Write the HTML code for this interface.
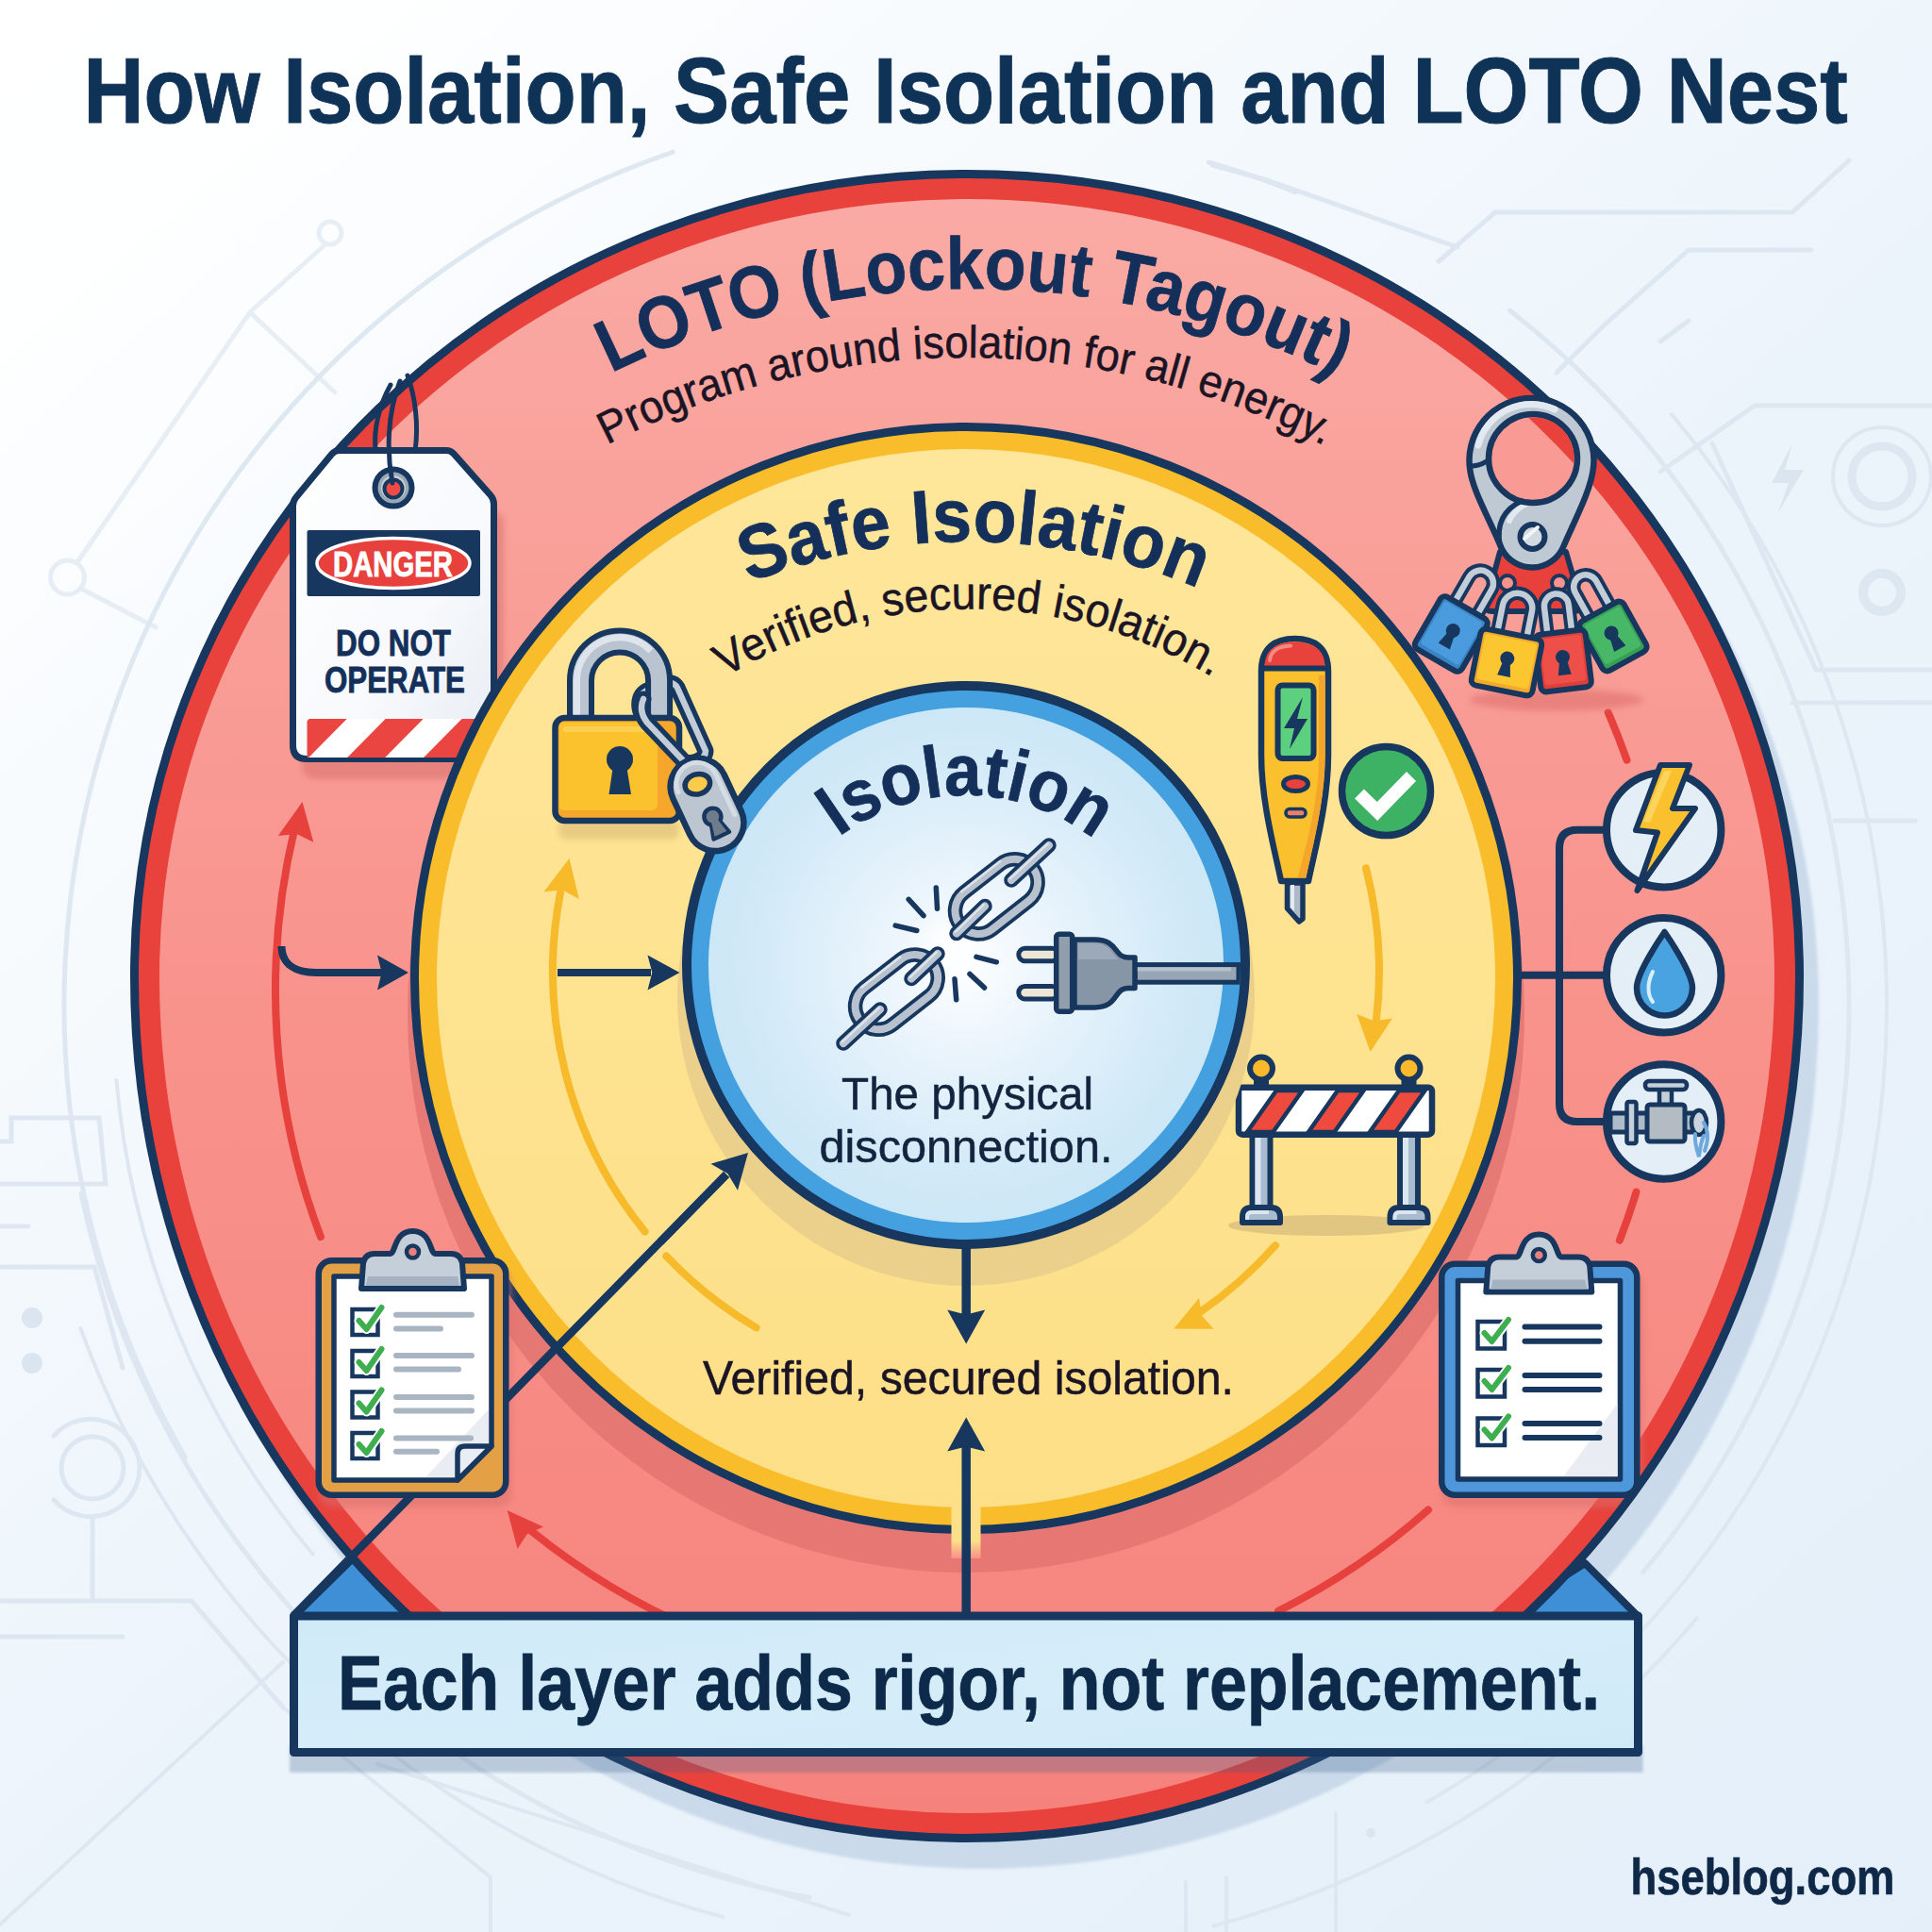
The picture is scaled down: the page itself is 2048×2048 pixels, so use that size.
<!DOCTYPE html>
<html><head><meta charset="utf-8"><title>How Isolation, Safe Isolation and LOTO Nest</title>
<style>
html,body{margin:0;padding:0;background:#eef4fa;}
body{width:2048px;height:2048px;overflow:hidden;}
svg{display:block;}
text{font-family:"Liberation Sans",sans-serif;}
.b{font-weight:bold;}
</style></head><body>
<svg width="2048" height="2048" viewBox="0 0 2048 2048">
<defs>
<linearGradient id="bgG" gradientUnits="userSpaceOnUse" x1="0" y1="0" x2="1884.6" y2="2184.7">
<stop offset="0" stop-color="#FFFFFF"/><stop offset="0.085" stop-color="#FEFFFF"/><stop offset="0.275" stop-color="#F6FAFD"/><stop offset="0.53" stop-color="#ECF4FB"/><stop offset="0.83" stop-color="#E7F1FA"/><stop offset="1" stop-color="#E5EFF9"/>
</linearGradient>
<linearGradient id="pinkG" x1="0" y1="0" x2="0" y2="1">
<stop offset="0" stop-color="#FAAAA4"/><stop offset="0.5" stop-color="#F8938C"/><stop offset="1" stop-color="#F6827C"/>
</linearGradient>
<linearGradient id="yelG" x1="0" y1="0" x2="0" y2="1">
<stop offset="0" stop-color="#FEE69A"/><stop offset="1" stop-color="#FDDF87"/>
</linearGradient>
<radialGradient id="blueG" cx="0.5" cy="0.5" r="0.5">
<stop offset="0" stop-color="#FDFEFF"/><stop offset="0.35" stop-color="#EAF4FC"/><stop offset="0.8" stop-color="#D3EAF8"/><stop offset="1" stop-color="#CCE7F6"/>
</radialGradient>
<linearGradient id="silverG" x1="0" y1="0" x2="1" y2="1">
<stop offset="0" stop-color="#DCE4EC"/><stop offset="1" stop-color="#A9B6C4"/>
</linearGradient>
<filter id="blur6" x="-20%" y="-20%" width="140%" height="140%"><feGaussianBlur stdDeviation="6"/></filter>
<filter id="blur1" x="-5%" y="-5%" width="110%" height="110%"><feGaussianBlur stdDeviation="1.5"/></filter>
<filter id="blur3" x="-20%" y="-20%" width="140%" height="140%"><feGaussianBlur stdDeviation="3"/></filter>
<filter id="blur12" x="-20%" y="-20%" width="140%" height="140%"><feGaussianBlur stdDeviation="12"/></filter>
<clipPath id="clipOuter"><path d="M147,1035 A878,846 0 0 1 1903,1035 A878,909 0 0 1 147,1035 Z"/></clipPath>
<clipPath id="clipYel"><circle cx="1024" cy="1037" r="580"/></clipPath>
<clipPath id="clipBlue"><circle cx="1024" cy="1023" r="291"/></clipPath>
</defs>
<rect width="2048" height="2048" fill="url(#bgG)"/>

<g fill="none" stroke="#DCE6F0" stroke-width="5" stroke-linecap="round" opacity="0.9">
<path d="M196.2,1544.5 A957,957 0 0 1 713.4,161.1" stroke-width="5"/>
<path d="M1281.3,172.0 A930,930 0 0 1 1373.4,203.7" stroke-width="5"/>
<path d="M331.7,1647.7 A905,905 0 0 1 123.4,1144.9" stroke-width="4"/>
<path d="M858.3,2011.4 A960,960 0 0 1 86.0,1265.6" stroke-width="5"/>
<path d="M766.2,2031.9 A1000,1000 0 0 1 85.3,1408.0" stroke-width="4"/>
<path d="M1600.6,329.2 A935,935 0 0 1 1741.3,1667.0" stroke-width="5"/>
<path d="M1771.9,439.3 A975,975 0 0 1 1512.5,1910.4" stroke-width="4"/>
<path d="M1798.7,1715.2 A1010,1010 0 0 1 1286.4,2041.6" stroke-width="4"/>
<g opacity="0.7"><path d="M345,259 L265,331 L82,596 M265,331 L355,416 M88,625 L165,665"/>
<circle cx="350" cy="247" r="12"/><circle cx="71.5" cy="612" r="18"/></g>
<path d="M1285,175 L1340,190 L1545,262 M1525,277 L1585,225 L1900,225 L1960,170"/>
<path d="M1650,395 L1700,345 L1790,265 L1920,265"/>
<path d="M1760,362 L1790,340"/>
<path d="M1760,500 L1860,430 L2048,430 M1815,470 L1925,710 L2048,710 M1900,745 L2048,745"/>
<path d="M1945,870 L2030,870"/>
<circle cx="1995" cy="505" r="32" stroke-width="9"/><circle cx="1995" cy="505" r="52" stroke-width="4"/>
<circle cx="1995" cy="628" r="20" stroke-width="10"/>
<path d="M1900,470 L1878,512 L1896,512 L1884,545 L1912,498 L1892,498 Z" fill="#D9E4EF" stroke="none"/>
<path d="M0,1210 L12,1210 L12,1185 L105,1185 L112,1255 L0,1255 M0,1300 L30,1300 M0,1343 L100,1343 L130,1450"/>
<circle cx="34" cy="1397" r="11" fill="#D9E4EF" stroke="none"/><circle cx="34" cy="1445" r="11" fill="#D9E4EF" stroke="none"/>
<circle cx="98" cy="1556" r="33"/><path d="M57,1522 A52,52 0 0 1 148,1556 A52,52 0 0 1 57,1590"/>
<path d="M98,1610 L98,1695 M0,1697 L203,1697 L300,1810 M0,1735 L130,1735"/>
<path d="M0,2040 L300,1762" stroke-width="4"/>
<path d="M300,1810 L520,1990 L520,2048 M400,1870 L900,2030" stroke-width="4"/>
<path d="M1416,2048 L1416,1922 M1257,2048 L1257,1995 M1300,2048 L1300,1990" stroke-width="4"/>
<circle cx="1453" cy="1943" r="5" fill="#D9E4EF" stroke="none"/>
</g>
<path d="M139,1035 A886,854 0 0 1 1911,1035 A886,917 0 0 1 139,1035 Z" fill="#C7D8E9" opacity="0.9" filter="url(#blur1)" transform="translate(17,29)"/>
<path d="M311,1714 L379,1647 L470,1714 Z" fill="#3E8FD6" stroke="#17375E" stroke-width="8" stroke-linejoin="round"/>
<path d="M1737,1714 L1680,1657 L1590,1714 Z" fill="#3E8FD6" stroke="#17375E" stroke-width="8" stroke-linejoin="round"/>
<path d="M142.5,1035 A882.5,850.5 0 0 1 1907.5,1035 A882.5,913.5 0 0 1 142.5,1035 Z" fill="#E9423D" stroke="#17375E" stroke-width="9"/>
<path d="M169,1035 A856,824 0 0 1 1881,1035 A856,887 0 0 1 169,1035 Z" fill="url(#pinkG)"/>
<g fill="none" stroke="#E6413D" stroke-width="8" stroke-linecap="round">
<path d="M339.9,1311.0 A735,735 0 0 1 312.3,878.4"/>
<path d="M1704.7,755.3 A739,739 0 0 1 1724.5,805.7"/>
<path d="M1734.5,1263.6 A739,739 0 0 1 1716.9,1314.8"/>
<path d="M1514.0,1600.5 A735,735 0 0 1 1355.0,1707.8"/>
<path d="M739.0,1728.4 A737,737 0 0 1 563.2,1622.8"/>
</g>
<path d="M320.5,850.0 L332.3,892.7 L314.5,883.9 L294.8,886.1 Z" fill="#E6413D"/>
<path d="M537.7,1601.1 L576.0,1618.4 L558.9,1626.0 L548.6,1641.7 Z" fill="#E6413D"/>
<path d="M298.5,1003 C298.5,1022 313,1031 335,1031 L405,1031" fill="none" stroke="#17375E" stroke-width="8"/>
<path d="M433.0,1031.0 L400.0,1049.5 L404.6,1031.0 L400.0,1012.5 Z" fill="#17375E"/>
<g id="tag">
<path d="M398,478 C396,455 402,430 414,408 M440,478 C444,450 440,420 432,398" fill="none" stroke="#17375E" stroke-width="5" stroke-linecap="round"/>
<path d="M316,545 L360,490 L480,490 L530,540 L530,800 Q530,816 514,816 L332,816 Q316,816 316,800 Z" fill="#D9706C" opacity="0.55" filter="url(#blur3)" transform="translate(4,10)"/>
<linearGradient id="tagG" x1="0" y1="0" x2="1" y2="1"><stop offset="0" stop-color="#FFFFFF"/><stop offset="0.6" stop-color="#F7F9FC"/><stop offset="1" stop-color="#E6ECF3"/></linearGradient>
<path d="M310.5,790 L310.5,536 Q310.5,531 314,527 L352,481 Q355,477.5 360,477.5 L473,477.5 Q478,477.5 481,481 L520,525 Q523.5,529 523.5,534 L523.5,790 Q523.5,804.5 509,804.5 L325,804.5 Q310.5,804.5 310.5,790 Z" fill="url(#tagG)" stroke="#17375E" stroke-width="7" stroke-linejoin="round"/>
<circle cx="417" cy="517" r="19.5" fill="#9AA7B5" stroke="#17375E" stroke-width="6"/>
<circle cx="417" cy="517" r="13" fill="#C7D0DA"/>
<circle cx="417" cy="518" r="9.5" fill="#EE4B47" stroke="#17375E" stroke-width="4"/>
<path d="M416,512 C410,480 410,440 424,404" fill="none" stroke="#17375E" stroke-width="5" stroke-linecap="round"/>
<rect x="325.5" y="562" width="183.5" height="70" rx="2" fill="#17375E"/>
<ellipse cx="417" cy="597" rx="81" ry="26.5" fill="#E8403C" stroke="#FFFFFF" stroke-width="3.5"/>
<text x="416.5" y="610.5" text-anchor="middle" class="b" font-size="37.5" fill="#FFFFFF" stroke="#FFFFFF" stroke-width="0.9" textLength="127" lengthAdjust="spacingAndGlyphs">DANGER</text>
<text x="417" y="695" text-anchor="middle" class="b" font-size="39.5" fill="#14305A" stroke="#14305A" stroke-width="0.9" textLength="122" lengthAdjust="spacingAndGlyphs">DO NOT</text>
<text x="418.5" y="734" text-anchor="middle" class="b" font-size="39.5" fill="#14305A" stroke="#14305A" stroke-width="0.9" textLength="149" lengthAdjust="spacingAndGlyphs">OPERATE</text>
<clipPath id="clipStripe"><rect x="325.5" y="762" width="183.5" height="41" rx="2"/></clipPath>
<g clip-path="url(#clipStripe)"><rect x="325.5" y="762" width="183.5" height="41" fill="#FFFFFF"/>
<path d="M246.7,762 L286.7,762 L246.2,803 L206.2,803 Z" fill="#EA4540"/>
<path d="M327.7,762 L367.7,762 L327.2,803 L287.2,803 Z" fill="#EA4540"/>
<path d="M408.7,762 L448.7,762 L408.2,803 L368.2,803 Z" fill="#EA4540"/>
<path d="M489.6,762 L529.6,762 L489.1,803 L449.1,803 Z" fill="#EA4540"/>
</g>
</g>
<path id="tp1" d="M569.4,439.7 A860,860 0 0 1 1495.6,443.0" fill="none"/>
<text class="b" font-size="78" fill="#14305A" text-anchor="middle" textLength="798.0" lengthAdjust="spacingAndGlyphs" stroke="#14305A" stroke-width="0.8"><textPath href="#tp1" startOffset="50%" textLength="798.0" lengthAdjust="spacingAndGlyphs">LOTO (Lockout Tagout)</textPath></text>
<path id="tp2" d="M569.4,515.3 A823,823 0 0 1 1477.8,516.1" fill="none"/>
<text font-size="48" fill="#1B1424" text-anchor="middle" textLength="790.0" lengthAdjust="spacingAndGlyphs" stroke="#1B1424" stroke-width="0.5"><textPath href="#tp2" startOffset="50%" textLength="790.0" lengthAdjust="spacingAndGlyphs">Program around isolation for all energy.</textPath></text>
<g clip-path="url(#clipOuter)"><circle cx="1024" cy="1075" r="592" fill="#E0726E" opacity="0.75"/></g>
<circle cx="1024" cy="1037" r="584.5" fill="#F9BD2C" stroke="#17375E" stroke-width="9"/>
<circle cx="1024" cy="1037" r="561" fill="url(#yelG)"/>
<linearGradient id="notchG" x1="0" y1="0" x2="0" y2="1"><stop offset="0" stop-color="#FDDF87"/><stop offset="0.7" stop-color="#FDDF87"/><stop offset="1" stop-color="#F98F89"/></linearGradient>
<rect x="1008.5" y="1590" width="31" height="62" fill="url(#notchG)"/>
<g fill="none" stroke="#F7BA2A" stroke-width="8" stroke-linecap="round">
<path d="M683.6,1305.6 A438,438 0 0 1 594.0,946.4"/>
<path d="M801.7,1407.4 A438,438 0 0 1 706.3,1331.5"/>
<path d="M1448.0,920.3 A438,438 0 0 1 1458.7,1083.4"/>
<path d="M1352.0,1320.2 A438,438 0 0 1 1272.1,1391.0"/>
</g>
<path d="M603.5,910.0 L613.8,953.1 L596.3,943.6 L576.6,945.2 Z" fill="#F7BA2A"/>
<path d="M1452.5,1115.0 L1438.3,1075.0 L1456.5,1082.6 L1476.0,1079.6 Z" fill="#F7BA2A"/>
<path d="M1244.3,1408.6 L1271.0,1376.1 L1273.9,1394.6 L1286.4,1408.7 Z" fill="#F7BA2A"/>
<path id="tp3" d="M733.7,645.4 A630,630 0 0 1 1329.8,652.6" fill="none"/>
<text class="b" font-size="80" fill="#14305A" text-anchor="middle" textLength="489.0" lengthAdjust="spacingAndGlyphs" stroke="#14305A" stroke-width="0.8"><textPath href="#tp3" startOffset="50%" textLength="489.0" lengthAdjust="spacingAndGlyphs">Safe Isolation</textPath></text>
<path id="tp4" d="M725.9,747.2 A496.5,496.5 0 0 1 1328.1,747.2" fill="none"/>
<text font-size="49" fill="#1B1424" text-anchor="middle" textLength="543.0" lengthAdjust="spacingAndGlyphs" stroke="#1B1424" stroke-width="0.5"><textPath href="#tp4" startOffset="50%" textLength="543.0" lengthAdjust="spacingAndGlyphs">Verified, secured isolation.</textPath></text>
<text x="1026.5" y="1477.5" text-anchor="middle" font-size="50.5" fill="#1B1424" stroke="#1B1424" stroke-width="0.5" textLength="563" lengthAdjust="spacingAndGlyphs">Verified, secured isolation.</text>
<g id="tester">
<path d="M1337,712 C1337,686 1352,677 1372.5,677 C1393,677 1408,686 1408,712 L1408,800 C1408,850 1394,900 1387,934 L1358,934 C1351,900 1337,850 1337,800 Z" fill="#FBC02D" stroke="#17375E" stroke-width="6.5" stroke-linejoin="round"/>
<path d="M1398,716 L1404.5,716 L1404.5,800 C1404.5,850 1391,898 1384.5,930 L1376,930 C1386,890 1398,850 1398,800 Z" fill="#F4A52A"/>
<path d="M1340.5,707 C1340.5,688 1354,680.5 1372.5,680.5 C1391,680.5 1404.5,688 1404.5,707 Z" fill="#E9423D"/>
<path d="M1346,700 C1347,690 1356,685 1368,684.5" fill="none" stroke="#F48A84" stroke-width="4" stroke-linecap="round"/>
<path d="M1337,708.5 L1408,708.5" stroke="#17375E" stroke-width="6"/>
<rect x="1354.5" y="726.5" width="38" height="77.5" rx="5" fill="#5DD080" stroke="#17375E" stroke-width="6"/>
<path d="M1381,739 L1361,772 L1372,772 L1367,794 L1386,762 L1375,762 Z" fill="#17375E"/>
<ellipse cx="1373.5" cy="831" rx="13" ry="7.5" fill="#E9423D" stroke="#17375E" stroke-width="5"/>
<rect x="1363" y="857.5" width="21" height="8.5" rx="4" fill="#E8806B" stroke="#17375E" stroke-width="3.5"/>
<path d="M1364.5,936 L1381,936 L1381,974 L1377,977 L1364.5,963 Z" fill="#AEB9C6" stroke="#17375E" stroke-width="5.5" stroke-linejoin="round"/>
<path d="M1368,938 L1372,938 L1372,966 L1368,962 Z" fill="#E4EAF1"/>
</g>
<circle cx="1469.5" cy="838.5" r="47" fill="#3DB264" stroke="#17375E" stroke-width="7.5"/>
<path d="M1441,841.5 L1460,860 L1496,823" fill="none" stroke="#FFFFFF" stroke-width="14" stroke-linecap="butt" stroke-linejoin="miter"/>
<g id="barrier">
<ellipse cx="1406" cy="1299" rx="104" ry="11" fill="#DDC37F" opacity="0.9"/>
<rect x="1327.5" y="1200" width="19" height="82" fill="#A9BBCE" stroke="#17375E" stroke-width="6"/>
<rect x="1330.5" y="1206" width="6" height="72" fill="#DCE6F0"/>
<path d="M1317,1296 L1317,1290 Q1317,1280 1327,1280 L1347,1280 Q1357,1280 1357,1290 L1357,1296 Z" fill="#A9BBCE" stroke="#17375E" stroke-width="6" stroke-linejoin="round"/>
<path d="M1322,1293 L1322,1290 Q1322,1285 1327,1285 L1345,1285" fill="none" stroke="#DCE6F0" stroke-width="4"/>
<rect x="1329" y="1143" width="16" height="9" fill="#17375E"/>
<circle cx="1337" cy="1132.5" r="12" fill="#F9B92A" stroke="#17375E" stroke-width="6"/>
<rect x="1484.0" y="1200" width="19" height="82" fill="#A9BBCE" stroke="#17375E" stroke-width="6"/>
<rect x="1487.0" y="1206" width="6" height="72" fill="#DCE6F0"/>
<path d="M1473.5,1296 L1473.5,1290 Q1473.5,1280 1483.5,1280 L1503.5,1280 Q1513.5,1280 1513.5,1290 L1513.5,1296 Z" fill="#A9BBCE" stroke="#17375E" stroke-width="6" stroke-linejoin="round"/>
<path d="M1478.5,1293 L1478.5,1290 Q1478.5,1285 1483.5,1285 L1501.5,1285" fill="none" stroke="#DCE6F0" stroke-width="4"/>
<rect x="1485.5" y="1143" width="16" height="9" fill="#17375E"/>
<circle cx="1493.5" cy="1132.5" r="12" fill="#F9B92A" stroke="#17375E" stroke-width="6"/>
<clipPath id="clipBar"><rect x="1316" y="1156" width="199.5" height="44"/></clipPath>
<rect x="1313" y="1152.7" width="205" height="50" rx="4" fill="#FFFFFF" stroke="#17375E" stroke-width="6.5"/>
<g clip-path="url(#clipBar)">
<path d="M1322,1200 L1353,1156 L1380.5,1156 L1349.5,1200 Z" fill="#EE4A3E" stroke="#17375E" stroke-width="4.5"/>
<path d="M1387,1200 L1418,1156 L1445.5,1156 L1414.5,1200 Z" fill="#EE4A3E" stroke="#17375E" stroke-width="4.5"/>
<path d="M1452,1200 L1483,1156 L1510.5,1156 L1479.5,1200 Z" fill="#EE4A3E" stroke="#17375E" stroke-width="4.5"/>
</g>
</g>
<g clip-path="url(#clipOuter)"><rect x="337.5" y="1343" width="205.0" height="255" rx="16" fill="#D9706C" opacity="0.5" filter="url(#blur3)"/></g>
<g clip-path="url(#clipOuter)"><rect x="1528" y="1346.5" width="213.5" height="251.5" rx="16" fill="#D9706C" opacity="0.5" filter="url(#blur3)"/></g>
<path d="M311,1713 L770,1245" fill="none" stroke="#17375E" stroke-width="8.5"/>
<path d="M1613,1033.7 L1700,1033.7 M1700,879.7 L1672,879.7 Q1653,879.7 1653,899 L1653,1170 Q1653,1189 1672,1189 L1700,1189" fill="none" stroke="#17375E" stroke-width="8"/>
<circle cx="1763.7" cy="879.7" r="60.7" fill="#E4EEF7" stroke="#17375E" stroke-width="8"/>
<circle cx="1763.7" cy="1033.7" r="60.7" fill="#E4EEF7" stroke="#17375E" stroke-width="8"/>
<circle cx="1763.7" cy="1189" r="60.7" fill="#E4EEF7" stroke="#17375E" stroke-width="8"/>
<path d="M1760,811 L1791,811 L1773,857 L1797,857 L1735.5,944 L1757,882.5 L1734,880 Z" fill="#FBC02D" stroke="#17375E" stroke-width="6" stroke-linejoin="round"/>
<path d="M1764,817 L1772,817 L1749,872 L1742,871 Z" fill="#FDD866" opacity="0.8"/>
<path d="M1764.5,988 C1764.5,988 1735,1030 1735,1047 A29.5,29.5 0 0 0 1794,1047 C1794,1030 1764.5,988 1764.5,988 Z" fill="#48A3E0" stroke="#17375E" stroke-width="6.5" stroke-linejoin="round"/>
<path d="M1752,1030 C1746,1042 1746,1054 1752,1062" fill="none" stroke="#D8EEFB" stroke-width="4" stroke-linecap="round"/>
<g>
<rect x="1707" y="1180" width="98" height="20" fill="#AEBBC8" stroke="#17375E" stroke-width="5"/>
<rect x="1724.5" y="1168" width="10" height="44" rx="2" fill="#C4CFDA" stroke="#17375E" stroke-width="4.5"/>
<rect x="1759" y="1152" width="13" height="22" fill="#C4CFDA" stroke="#17375E" stroke-width="4.5"/>
<rect x="1744" y="1146" width="44" height="9" rx="4" fill="#C4CFDA" stroke="#17375E" stroke-width="4.5"/>
<rect x="1746" y="1171" width="40" height="39" rx="3" fill="#B3BCC3" stroke="#17375E" stroke-width="5"/>
<ellipse cx="1801" cy="1190" rx="8" ry="13" fill="#C9D4DF" stroke="#17375E" stroke-width="4.5"/>
<path d="M1797,1202 C1796,1212 1799,1220 1801,1226 C1802,1218 1803,1210 1806,1204 M1806,1190 C1812,1200 1810,1212 1807,1220" fill="none" stroke="#6FA8DC" stroke-width="4" stroke-linecap="round"/>
</g>
<rect x="337.75" y="1336.25" width="198.5" height="248.5" rx="14" fill="#E3A044" stroke="#17375E" stroke-width="6.5"/>
<path d="M354,1353 L521,1353 L521,1533 L485,1569 L354,1569 Z" fill="#FFFFFF" stroke="#17375E" stroke-width="5.5" stroke-linejoin="round"/>
<path d="M451,1566 L518,1494 L518,1533 L485,1566 Z" fill="#E3E9F0" opacity="0.8"/>
<path d="M485,1569 L485,1541 Q485,1533 493,1533 L521,1533 Z" fill="#E9EEF4" stroke="#17375E" stroke-width="5.5" stroke-linejoin="round"/>
<path d="M383.0,1366 L385.0,1339 Q387.0,1329 397.0,1329 L413.5,1329 C419.5,1329 417.5,1305 437.5,1305 C457.5,1305 455.5,1329 461.5,1329 L478.0,1329 Q488.0,1329 490.0,1339 L492.0,1366 Z" fill="#C5CFD9" stroke="#17375E" stroke-width="6" stroke-linejoin="round"/>
<path d="M388.0,1363 L390.0,1353 L485.0,1353 L487.0,1363 Z" fill="#A4B2C1"/>
<circle cx="437.5" cy="1327" r="6.5" fill="#E8807C" stroke="#17375E" stroke-width="4.5"/>
<rect x="373.5" y="1388" width="27" height="27" fill="#FFFFFF" stroke="#17375E" stroke-width="4.5"/>
<path d="M380.5,1400 L388.5,1409 L405.5,1385" fill="none" stroke="#FFFFFF" stroke-width="10" stroke-linecap="round" stroke-linejoin="round"/>
<path d="M380.5,1400 L388.5,1409 L404.5,1386" fill="none" stroke="#3FAE4F" stroke-width="6" stroke-linecap="round" stroke-linejoin="round"/>
<path d="M420,1393.8 L500,1393.8 M420,1408.4 L467,1408.4" stroke="#A9B5C3" stroke-width="6" stroke-linecap="round"/>
<rect x="373.5" y="1432" width="27" height="27" fill="#FFFFFF" stroke="#17375E" stroke-width="4.5"/>
<path d="M380.5,1444 L388.5,1453 L405.5,1429" fill="none" stroke="#FFFFFF" stroke-width="10" stroke-linecap="round" stroke-linejoin="round"/>
<path d="M380.5,1444 L388.5,1453 L404.5,1430" fill="none" stroke="#3FAE4F" stroke-width="6" stroke-linecap="round" stroke-linejoin="round"/>
<path d="M420,1437 L500,1437 M420,1451.5 L486,1451.5" stroke="#A9B5C3" stroke-width="6" stroke-linecap="round"/>
<rect x="373.5" y="1475.5" width="27" height="27" fill="#FFFFFF" stroke="#17375E" stroke-width="4.5"/>
<path d="M380.5,1487.5 L388.5,1496.5 L405.5,1472.5" fill="none" stroke="#FFFFFF" stroke-width="10" stroke-linecap="round" stroke-linejoin="round"/>
<path d="M380.5,1487.5 L388.5,1496.5 L404.5,1473.5" fill="none" stroke="#3FAE4F" stroke-width="6" stroke-linecap="round" stroke-linejoin="round"/>
<path d="M420,1481 L500,1481 M420,1495.4 L500,1495.4" stroke="#A9B5C3" stroke-width="6" stroke-linecap="round"/>
<rect x="373.5" y="1519" width="27" height="27" fill="#FFFFFF" stroke="#17375E" stroke-width="4.5"/>
<path d="M380.5,1531 L388.5,1540 L405.5,1516" fill="none" stroke="#FFFFFF" stroke-width="10" stroke-linecap="round" stroke-linejoin="round"/>
<path d="M380.5,1531 L388.5,1540 L404.5,1517" fill="none" stroke="#3FAE4F" stroke-width="6" stroke-linecap="round" stroke-linejoin="round"/>
<path d="M420,1524.4 L499,1524.4 M420,1538.8 L463,1538.8" stroke="#A9B5C3" stroke-width="6" stroke-linecap="round"/>
<rect x="1528.25" y="1339.75" width="207.0" height="245.0" rx="14" fill="#4E97DA" stroke="#17375E" stroke-width="6.5"/>
<rect x="1545.5" y="1357.5" width="172.0" height="210.5" fill="#FFFFFF" stroke="#17375E" stroke-width="5.5" stroke-linejoin="round"/>
<path d="M1657.5,1565 L1714.5,1488 L1714.5,1565 Z" fill="#E3E9F0" opacity="0.8"/>
<path d="M1575.3,1369.5 L1577.3,1342.5 Q1579.3,1332.5 1589.3,1332.5 L1607.3,1332.5 C1613.3,1332.5 1611.3,1308.5 1631.3,1308.5 C1651.3,1308.5 1649.3,1332.5 1655.3,1332.5 L1673.3,1332.5 Q1683.3,1332.5 1685.3,1342.5 L1687.3,1369.5 Z" fill="#C5CFD9" stroke="#17375E" stroke-width="6" stroke-linejoin="round"/>
<path d="M1580.3,1366.5 L1582.3,1356.5 L1680.3,1356.5 L1682.3,1366.5 Z" fill="#A4B2C1"/>
<circle cx="1631.3" cy="1330.5" r="6.5" fill="#E8807C" stroke="#17375E" stroke-width="4.5"/>
<rect x="1566.5" y="1401" width="28.5" height="28.5" fill="#FFFFFF" stroke="#17375E" stroke-width="4.5"/>
<path d="M1573.5,1413 L1581.5,1422 L1600.0,1398" fill="none" stroke="#FFFFFF" stroke-width="10" stroke-linecap="round" stroke-linejoin="round"/>
<path d="M1573.5,1413 L1581.5,1422 L1599.0,1399" fill="none" stroke="#3FAE4F" stroke-width="6" stroke-linecap="round" stroke-linejoin="round"/>
<path d="M1616.5,1406.4 L1695.5,1406.4 M1616.5,1421.7 L1695.5,1421.7" stroke="#17375E" stroke-width="6" stroke-linecap="round"/>
<rect x="1566.5" y="1452" width="28.5" height="28.5" fill="#FFFFFF" stroke="#17375E" stroke-width="4.5"/>
<path d="M1573.5,1464 L1581.5,1473 L1600.0,1449" fill="none" stroke="#FFFFFF" stroke-width="10" stroke-linecap="round" stroke-linejoin="round"/>
<path d="M1573.5,1464 L1581.5,1473 L1599.0,1450" fill="none" stroke="#3FAE4F" stroke-width="6" stroke-linecap="round" stroke-linejoin="round"/>
<path d="M1616.5,1458 L1695.5,1458 M1616.5,1473 L1695.5,1473" stroke="#17375E" stroke-width="6" stroke-linecap="round"/>
<rect x="1566.5" y="1503.5" width="28.5" height="28.5" fill="#FFFFFF" stroke="#17375E" stroke-width="4.5"/>
<path d="M1573.5,1515.5 L1581.5,1524.5 L1600.0,1500.5" fill="none" stroke="#FFFFFF" stroke-width="10" stroke-linecap="round" stroke-linejoin="round"/>
<path d="M1573.5,1515.5 L1581.5,1524.5 L1599.0,1501.5" fill="none" stroke="#3FAE4F" stroke-width="6" stroke-linecap="round" stroke-linejoin="round"/>
<path d="M1616.5,1509 L1695.5,1509 M1616.5,1524 L1695.5,1524" stroke="#17375E" stroke-width="6" stroke-linecap="round"/>
<g id="hasp">
<g clip-path="url(#clipOuter)"><ellipse cx="1650" cy="742" rx="92" ry="12" fill="#E0726E" opacity="0.6" filter="url(#blur3)"/></g>
<path d="M1590,585 L1660,585 L1676,640 Q1677,648 1668,648 L1582,648 Q1573,648 1575,640 Z" fill="#E8413C" stroke="#17375E" stroke-width="6" stroke-linejoin="round"/>
<circle cx="1598" cy="618" r="8" fill="#F9938E" stroke="#17375E" stroke-width="4"/><circle cx="1653" cy="618" r="8" fill="#F9938E" stroke="#17375E" stroke-width="4"/>
<path d="M1558.5,499.5 A66,66 0 1 1 1688.5,499.5 C1685,522 1670,550 1657,580 A36,36 0 0 1 1592,582 C1580,552 1562,522 1558.5,499.5 Z" fill="#BFC9D4" stroke="#17375E" stroke-width="6.5" stroke-linejoin="round"/>
<path d="M1567,472 A58,58 0 0 1 1648,434" fill="none" stroke="#E3E9F0" stroke-width="7" stroke-linecap="round"/>
<path d="M1600,552 C1606,538 1622,530 1640,528" fill="none" stroke="#E3E9F0" stroke-width="6" stroke-linecap="round"/>
<circle cx="1625" cy="486" r="47" fill="#F99A95" stroke="#17375E" stroke-width="6.5"/>
<clipPath id="clipHaspHole"><circle cx="1625" cy="486" r="43.8"/></clipPath>
<g clip-path="url(#clipHaspHole)"><path d="M142.5,1035 A882.5,850.5 0 0 1 1907.5,1035 A882.5,913.5 0 0 1 142.5,1035 Z" fill="none" stroke="#17375E" stroke-width="9"/><path d="M158,1035 A867,835 0 0 1 1892,1035 A867,898 0 0 1 158,1035 Z" fill="none" stroke="#E9423D" stroke-width="22"/></g>
<path d="M1613,531 C1594,540 1586,556 1590,578" fill="none" stroke="#17375E" stroke-width="5.5" stroke-linecap="round"/>
<path d="M1560,494 C1566,494 1571,492 1576,489" fill="none" stroke="#17375E" stroke-width="5" stroke-linecap="round"/>
<circle cx="1624.5" cy="569" r="13" fill="#D3DAE2" stroke="#17375E" stroke-width="6"/>
<path d="M1616,571 L1630,559" stroke="#F3F6F9" stroke-width="4" stroke-linecap="round"/>
<g transform="translate(1538.3,672) rotate(30)">
<path d="M-13.68,-28.0 L-13.68,-62.0 A13.68,13.68 0 0 1 13.68,-62.0 L13.68,-28.0" fill="none" stroke="#17375E" stroke-width="14.5"/>
<path d="M-13.68,-28.0 L-13.68,-62.0 A13.68,13.68 0 0 1 13.68,-62.0 L13.68,-28.0" fill="none" stroke="#C3CDD8" stroke-width="6.5"/>
<rect x="-28.5" y="-32.0" width="57" height="64" rx="6" fill="#3A84C6" stroke="#17375E" stroke-width="6"/>
<rect x="-23.5" y="-27.0" width="47" height="52" rx="3" fill="#4A9BDD"/>
<circle cx="0" cy="-4" r="7.5" fill="#17375E"/><path d="M-3.5,-2 L3.5,-2 L7,15 L-7,15 Z" fill="#17375E"/>
</g>
<g transform="translate(1710,674.5) rotate(-29)">
<path d="M-12.719999999999999,-26.0 L-12.719999999999999,-60.0 A12.719999999999999,12.719999999999999 0 0 1 12.719999999999999,-60.0 L12.719999999999999,-26.0" fill="none" stroke="#17375E" stroke-width="14.5"/>
<path d="M-12.719999999999999,-26.0 L-12.719999999999999,-60.0 A12.719999999999999,12.719999999999999 0 0 1 12.719999999999999,-60.0 L12.719999999999999,-26.0" fill="none" stroke="#C3CDD8" stroke-width="6.5"/>
<rect x="-26.5" y="-30.0" width="53" height="60" rx="6" fill="#37A055" stroke="#17375E" stroke-width="6"/>
<rect x="-21.5" y="-25.0" width="43" height="48" rx="3" fill="#46B866"/>
<circle cx="0" cy="-4" r="7.5" fill="#17375E"/><path d="M-3.5,-2 L3.5,-2 L7,15 L-7,15 Z" fill="#17375E"/>
</g>
<g transform="translate(1657,700.5) rotate(-7)">
<path d="M-12.959999999999999,-26.5 L-12.959999999999999,-58.5 A12.959999999999999,12.959999999999999 0 0 1 12.959999999999999,-58.5 L12.959999999999999,-26.5" fill="none" stroke="#17375E" stroke-width="14.5"/>
<path d="M-12.959999999999999,-26.5 L-12.959999999999999,-58.5 A12.959999999999999,12.959999999999999 0 0 1 12.959999999999999,-58.5 L12.959999999999999,-26.5" fill="none" stroke="#C3CDD8" stroke-width="6.5"/>
<rect x="-27.0" y="-30.5" width="54" height="61" rx="6" fill="#DE3F3A" stroke="#17375E" stroke-width="6"/>
<rect x="-22.0" y="-25.5" width="44" height="49" rx="3" fill="#EF4F49"/>
<circle cx="0" cy="-4" r="7.5" fill="#17375E"/><path d="M-3.5,-2 L3.5,-2 L7,15 L-7,15 Z" fill="#17375E"/>
</g>
<g transform="translate(1597,702) rotate(11.3)">
<path d="M-15.84,-26.5 L-15.84,-58.5 A15.84,15.84 0 0 1 15.84,-58.5 L15.84,-26.5" fill="none" stroke="#17375E" stroke-width="14.5"/>
<path d="M-15.84,-26.5 L-15.84,-58.5 A15.84,15.84 0 0 1 15.84,-58.5 L15.84,-26.5" fill="none" stroke="#C3CDD8" stroke-width="6.5"/>
<rect x="-33.0" y="-30.5" width="66" height="61" rx="6" fill="#F3A92B" stroke="#17375E" stroke-width="6"/>
<rect x="-28.0" y="-25.5" width="56" height="49" rx="3" fill="#FBC630"/>
<circle cx="0" cy="-4" r="7.5" fill="#17375E"/><path d="M-3.5,-2 L3.5,-2 L7,15 L-7,15 Z" fill="#17375E"/>
</g>
</g>
<g clip-path="url(#clipYel)"><circle cx="1024" cy="1057" r="306" fill="#EBD08C"/></g>
<circle cx="1024" cy="1023" r="296" fill="#44A0DF" stroke="#17375E" stroke-width="10"/>
<circle cx="1024" cy="1023" r="273" fill="url(#blueG)"/>
<path id="tp5" d="M871.0,902.4 A224,224 0 0 1 1177.8,905.1" fill="none"/>
<text class="b" font-size="77" fill="#14305A" text-anchor="middle" textLength="291.0" lengthAdjust="spacingAndGlyphs" stroke="#14305A" stroke-width="0.8"><textPath href="#tp5" startOffset="50%" textLength="291.0" lengthAdjust="spacingAndGlyphs">Isolation</textPath></text>
<text x="1025.6" y="1176" text-anchor="middle" font-size="49" fill="#13243E" stroke="#13243E" stroke-width="0.5" textLength="267" lengthAdjust="spacingAndGlyphs">The physical</text>
<text x="1024" y="1231.5" text-anchor="middle" font-size="49" fill="#13243E" stroke="#13243E" stroke-width="0.5" textLength="311" lengthAdjust="spacingAndGlyphs">disconnection.</text>
<g id="padlock">
<rect x="592" y="868" width="128" height="22" rx="8" fill="#E3C67E" opacity="0.8" filter="url(#blur3)"/>
<path d="M690,731 C676,733 674,750 684,764 L722,806 C732,812 748,806 748,796 L718,729 C714,722 706,722 700,728" fill="none" stroke="#17375E" stroke-width="17" stroke-linejoin="round" stroke-linecap="round"/>
<path d="M690,731 C676,733 674,750 684,764 L722,806 C732,812 748,806 748,796 L718,729 C714,722 706,722 700,728" fill="none" stroke="#C3CDD8" stroke-width="6.5" stroke-linejoin="round" stroke-linecap="round"/>
<path d="M615.5,764 L615.5,721.5 A41.5,41.5 0 0 1 698.6,721.5 L698.6,764" fill="none" stroke="#17375E" stroke-width="29"/>
<path d="M615.5,764 L615.5,721.5 A41.5,41.5 0 0 1 698.6,721.5 L698.6,764" fill="none" stroke="#B9C4D0" stroke-width="17"/>
<path d="M611.5,764 L611.5,721.5 A45.5,45.5 0 0 1 690,690" fill="none" stroke="#DDE4EC" stroke-width="7"/>
<rect x="588.5" y="761" width="131.5" height="109" rx="10" fill="#F6A72B" stroke="#17375E" stroke-width="6.5"/>
<path d="M593,770 Q593,765.5 598,765.5 L690,765.5 Q697,765.5 697,772 L697,852 Q697,859 690,859 L598,859 Q593,859 593,854 Z" fill="#FBC22E"/>
<rect x="597" y="770" width="90" height="6" rx="3" fill="#FDD55C" opacity="0.8"/>
<circle cx="657" cy="805" r="14" fill="#17375E"/><path d="M650.5,808 L663.5,808 L669,842 L645.5,842 Z" fill="#17375E"/>
<path d="M682,741 C678,750 680,758 686,766 L724,806" fill="none" stroke="#17375E" stroke-width="17" stroke-linecap="round"/>
<path d="M682,741 C678,750 680,758 686,766 L724,806" fill="none" stroke="#C3CDD8" stroke-width="6.5" stroke-linecap="round"/>
<g transform="translate(749.5,853) rotate(-25)">
<rect x="-30" y="-51" width="60" height="102" rx="30" fill="#BCC6D1" stroke="#17375E" stroke-width="6.5"/>
<path d="M-22,-25 A22,22 0 0 1 22,-25 L22,22" fill="none" stroke="#D5DCE4" stroke-width="5" stroke-linecap="round"/>
<ellipse cx="0" cy="-24" rx="13.5" ry="10.5" fill="#FCCB4A" stroke="#17375E" stroke-width="5.5" transform="rotate(8 0 -24)"/>
<path d="M-4,18 L4,18 L9,36 L-9,36 Z" fill="#6E7C8C" stroke="#17375E" stroke-width="4.5" stroke-linejoin="round"/><circle cx="0" cy="14" r="9" fill="#6E7C8C" stroke="#17375E" stroke-width="4.5"/>
<path d="M-3,16 L3,16 L7,34 L-7,34 Z" fill="#6E7C8C"/>
</g>
</g>
<g id="chain">
<radialGradient id="glowG" cx="0.5" cy="0.5" r="0.5"><stop offset="0" stop-color="#FFFFFF" stop-opacity="1"/><stop offset="1" stop-color="#FFFFFF" stop-opacity="0"/></radialGradient>
<circle cx="1007" cy="1003" r="42" fill="url(#glowG)"/>
<g transform="translate(1056.3,950.4) rotate(-38)">
<rect x="-49" y="-24.5" width="98" height="49" rx="24.5" fill="none" stroke="#17375E" stroke-width="15.5"/>
<rect x="-49" y="-24.5" width="98" height="49" rx="24.5" fill="none" stroke="#B7C2CE" stroke-width="8"/>
<path d="M-26,-27 L26,-27" stroke="#DDE4EC" stroke-width="2.5" stroke-linecap="round"/>
</g>
<path d="M1072,933 L1112,896" stroke="#17375E" stroke-width="15.5" stroke-linecap="round"/>
<path d="M1072,933 L1112,896" stroke="#BCC6D2" stroke-width="8" stroke-linecap="round"/>
<path d="M1070.8,931.4 L1110.8,894.4" stroke="#DDE4EC" stroke-width="2.2" stroke-linecap="round"/>
<path d="M1044,960.5 L1014,989.5" stroke="#17375E" stroke-width="15.5" stroke-linecap="round"/>
<path d="M1044,960.5 L1014,989.5" stroke="#BCC6D2" stroke-width="8" stroke-linecap="round"/>
<path d="M1042.8,958.9 L1012.8,987.9" stroke="#DDE4EC" stroke-width="2.2" stroke-linecap="round"/>
<g transform="translate(950.4,1051.7) rotate(-38)">
<rect x="-49" y="-24.5" width="98" height="49" rx="24.5" fill="none" stroke="#17375E" stroke-width="15.5"/>
<rect x="-49" y="-24.5" width="98" height="49" rx="24.5" fill="none" stroke="#B7C2CE" stroke-width="8"/>
<path d="M-26,-27 L26,-27" stroke="#DDE4EC" stroke-width="2.5" stroke-linecap="round"/>
</g>
<path d="M966,1037.5 L994,1011" stroke="#17375E" stroke-width="15.5" stroke-linecap="round"/>
<path d="M966,1037.5 L994,1011" stroke="#BCC6D2" stroke-width="8" stroke-linecap="round"/>
<path d="M964.8,1035.9 L992.8,1009.4" stroke="#DDE4EC" stroke-width="2.2" stroke-linecap="round"/>
<path d="M933,1070 L894,1106" stroke="#17375E" stroke-width="15.5" stroke-linecap="round"/>
<path d="M933,1070 L894,1106" stroke="#BCC6D2" stroke-width="8" stroke-linecap="round"/>
<path d="M931.8,1068.4 L892.8,1104.4" stroke="#DDE4EC" stroke-width="2.2" stroke-linecap="round"/>
<g stroke="#17375E" stroke-width="5.5" stroke-linecap="round">
<path d="M992.3,941 L993.5,963.2"/>
<path d="M963.2,953.4 L979,970.6"/>
<path d="M949.2,981.1 L971.8,986.5"/>
<path d="M1035,1014.4 L1056.3,1019.8"/>
<path d="M1028,1032.4 L1043.5,1047"/>
<path d="M1012,1037.7 L1013.7,1059.8"/>
</g>
</g>
<g id="plug" clip-path="url(#clipBlue)">
<rect x="1203" y="1022.6" width="110" height="18.6" fill="#97A5B5" stroke="#17375E" stroke-width="5"/>
<rect x="1205" y="1025.5" width="100" height="4" fill="#B6C1CE"/>
<rect x="1079.8" y="1005.2" width="42" height="13.6" rx="6.8" fill="#EDE6D6" stroke="#17375E" stroke-width="5"/>
<rect x="1079.8" y="1045.4" width="42" height="13.6" rx="6.8" fill="#EDE6D6" stroke="#17375E" stroke-width="5"/>
<path d="M1139,996 L1160,996 C1186,996 1180,1015 1196,1015 L1203,1015 L1203,1047.5 L1196,1047.5 C1180,1047.5 1186,1068 1160,1068 L1139,1068 Z" fill="#8696A7" stroke="#17375E" stroke-width="5.5" stroke-linejoin="round"/>
<path d="M1143,1000 L1160,1000 C1178,1000 1178,1012 1186,1017 L1143,1017 Z" fill="#9BA9B8"/>
<rect x="1119.7" y="990.3" width="17" height="82" rx="3" fill="#909EAE" stroke="#17375E" stroke-width="5.5"/>
</g>
<path d="M700,1316.4 L770,1245" fill="none" stroke="#17375E" stroke-width="8.5"/>
<path d="M793.0,1222.0 L782.0,1261.7 L771.3,1244.1 L753.5,1233.7 Z" fill="#17375E"/>
<path d="M591,1031 L690,1031" fill="none" stroke="#17375E" stroke-width="8"/>
<path d="M720.5,1031.0 L686.5,1049.5 L691.3,1031.0 L686.5,1012.5 Z" fill="#17375E"/>
<path d="M1024.2,1322 L1024.2,1395" fill="none" stroke="#17375E" stroke-width="9.5"/>
<path d="M1024.2,1424.5 L1004.2,1388.5 L1024.2,1393.5 L1044.2,1388.5 Z" fill="#17375E"/>
<path d="M1024.2,1712 L1024.2,1532" fill="none" stroke="#17375E" stroke-width="9.5"/>
<path d="M1024.2,1502.5 L1044.2,1538.5 L1024.2,1533.5 L1004.2,1538.5 Z" fill="#17375E"/>
<rect x="307" y="1850" width="1434.5" height="29" fill="#3B5E8C" opacity="0.27" filter="url(#blur1)"/>
<linearGradient id="banG" x1="0" y1="0" x2="1" y2="1"><stop offset="0" stop-color="#CFEAF7"/><stop offset="0.5" stop-color="#D5EDF9"/><stop offset="1" stop-color="#CFEAF7"/></linearGradient>
<rect x="311.5" y="1713" width="1425" height="144.5" fill="url(#banG)" stroke="#17375E" stroke-width="9" stroke-linejoin="round"/>
<text x="1027.1" y="1811.5" text-anchor="middle" class="b" font-size="82" fill="#0D2A4B" stroke="#0D2A4B" stroke-width="0.8" textLength="1338" lengthAdjust="spacingAndGlyphs">Each layer adds rigor, not replacement.</text>
<text x="1023.7" y="130" text-anchor="middle" class="b" font-size="99" fill="#0F3257" stroke="#0F3257" stroke-width="1" textLength="1870.3" lengthAdjust="spacingAndGlyphs">How Isolation, Safe Isolation and LOTO Nest</text>
<text x="1868.5" y="2007.5" text-anchor="middle" class="b" font-size="53" fill="#0F2848" stroke="#0F2848" stroke-width="0.7" textLength="280" lengthAdjust="spacingAndGlyphs">hseblog.com</text>
</svg></body></html>
